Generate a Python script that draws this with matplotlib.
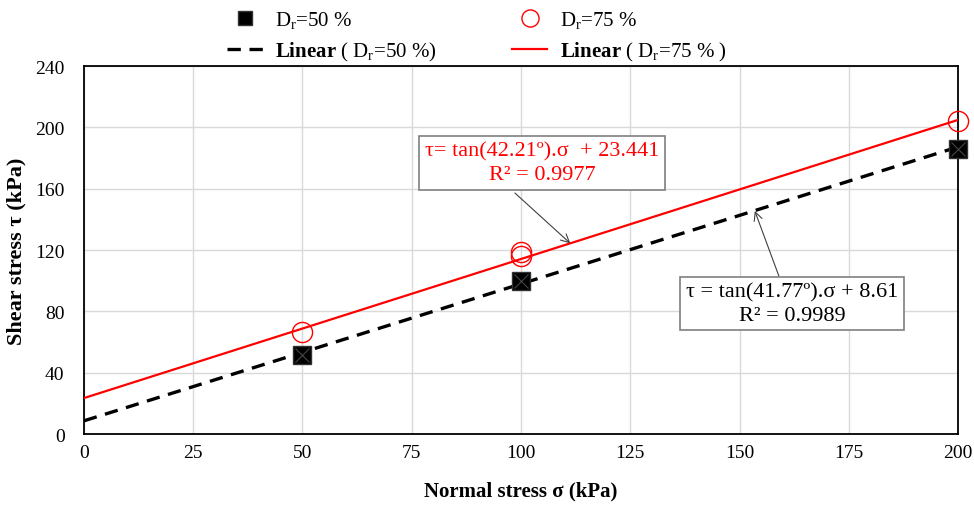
import matplotlib
matplotlib.use("Agg")
import matplotlib.pyplot as plt
import numpy as np

plt.rcParams['font.family'] = ['Liberation Serif', 'DejaVu Serif']
plt.rcParams['mathtext.fontset'] = 'custom'
plt.rcParams['mathtext.rm'] = 'Liberation Serif'
plt.rcParams['mathtext.it'] = 'Liberation Serif:italic'
plt.rcParams['mathtext.bf'] = 'Liberation Serif:bold'

# 试验数据 (kPa)
sigma_50 = [50, 100, 200]
tau_50 = [51.5, 100, 186]
sigma_75 = [50, 100, 100, 200]
tau_75 = [66.5, 116, 118.5, 204]

# 线性拟合参数 (内摩擦角, 黏聚力)
phi_50, c_50 = 41.77, 8.61
phi_75, c_75 = 42.21, 23.441

xticks = [0, 25, 50, 75, 100, 125, 150, 175, 200]
yticks = [0, 40, 80, 120, 160, 200, 240]

fig = plt.figure(figsize=(9.74, 5.10), dpi=100)
ax = fig.add_axes([0.0862, 0.147, 0.8974, 0.7216])

xs = np.array([0, 200])
line50, = ax.plot(xs, np.tan(np.radians(phi_50)) * xs + c_50, color='black',
                  lw=2.4, ls=(0, (4, 2.6)), zorder=3)
line75, = ax.plot(xs, np.tan(np.radians(phi_75)) * xs + c_75, color='red',
                  lw=1.6, zorder=3)
pts50, = ax.plot(sigma_50, tau_50, ls='none', marker='s', ms=12.5, color='black',
                 mec='#333333', zorder=4, clip_on=False)
ax.plot(sigma_50, tau_50, ls='none', marker='x', ms=10, color='#444444', mew=0.8,
        zorder=5, clip_on=False)
pts75, = ax.plot(sigma_75, tau_75, ls='none', marker='o', ms=14.5, mfc='none',
                 mec='red', mew=1.0, zorder=5, clip_on=False)

ax.set_xlim(0, 200)
ax.set_ylim(0, 240)
ax.set_xticks(xticks)
ax.set_yticks(yticks)
ax.tick_params(length=0, labelsize=14)
ax.tick_params(axis='x', pad=7)
ax.tick_params(axis='y', pad=14)
ax.grid(True, color='#d9d9d9', lw=1.0)
ax.set_axisbelow(True)
for s in ax.spines.values():
    s.set_color('black')
    s.set_linewidth(1.3)

ax.set_xlabel('Normal stress σ (kPa)', fontsize=15, fontweight='bold', labelpad=14)
ax.set_ylabel('Shear stress τ (kPa)', fontsize=16, fontweight='bold', labelpad=6)

# 注释框
box = dict(boxstyle='square,pad=0.25', fc='white', ec='#7f7f7f', lw=1.2)
arrow = dict(arrowstyle='->', color='#404040', lw=0.8, shrinkA=0, shrinkB=0,
             mutation_scale=15)
ax.text(104.8, 176.8, 'τ= tan(42.21º).σ  + 23.441\nR² = 0.9977', ha='center',
        va='center', fontsize=16, color='red', linespacing=1.3, bbox=box, zorder=6)
ax.annotate('', xy=(111.3, 124.3), xytext=(98.6, 157.2), arrowprops=arrow, zorder=6)
ax.text(162, 85.1, 'τ = tan(41.77º).σ + 8.61\nR² = 0.9989', ha='center',
        va='center', fontsize=16, color='black', linespacing=1.3, bbox=box, zorder=6)
ax.annotate('', xy=(153.5, 145.5), xytext=(159, 103.1), arrowprops=arrow, zorder=6)

handles = [pts50, line50, pts75, line75]
labels = [r'D$_\mathrm{r}$=50 %', r'$\mathbf{Linear}$ ( D$_\mathrm{r}$=50 %)',
          r'D$_\mathrm{r}$=75 %', r'$\mathbf{Linear}$ ( D$_\mathrm{r}$=75 % )']
fig.legend(handles, labels, ncol=2, loc='upper left', bbox_to_anchor=(0.225, 0.996),
           borderaxespad=0, frameon=False, fontsize=15, handlelength=1.7,
           columnspacing=3.6, labelspacing=0.45, handletextpad=0.6, markerscale=0.85)

fig.savefig('out.png', dpi=100)
